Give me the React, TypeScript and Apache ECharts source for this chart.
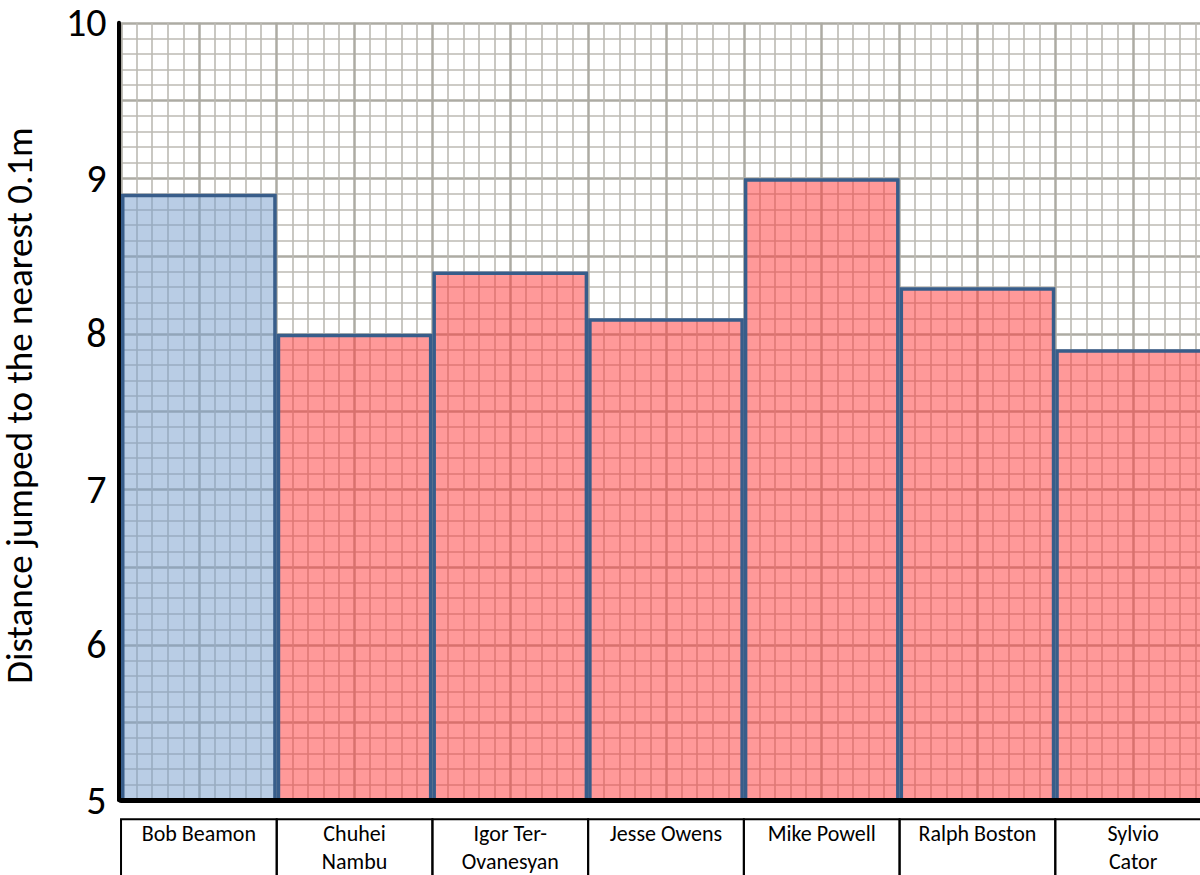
import React, { useEffect, useRef } from "react";
import * as echarts from "echarts";

const categories = [
  "Bob Beamon",
  "Chuhei Nambu",
  "Igor Ter-Ovanesyan",
  "Jesse Owens",
  "Mike Powell",
  "Ralph Boston",
  "Sylvio Cator",
];
const categoryLabels = [
  "Bob Beamon",
  "Chuhei\nNambu",
  "Igor Ter-\nOvanesyan",
  "Jesse Owens",
  "Mike Powell",
  "Ralph Boston",
  "Sylvio\nCator",
];
const distances = [8.9, 8.0, 8.4, 8.1, 9.0, 8.3, 7.9];
const highlighted = ["Bob Beamon"];
const yMin = 5;
const yMax = 10;
const yTitle = "Distance jumped to the nearest 0.1m";

const FONT = "Carlito, Calibri, Lato, sans-serif";

export default function App() {
  const ref = useRef<HTMLDivElement>(null);
  useEffect(() => {
    if (!ref.current) return;
    const chart = echarts.init(ref.current, undefined, { renderer: "svg" });
    const catWidth = 155.66;
    chart.setOption({
      animation: false,
      backgroundColor: "#ffffff",
      textStyle: { fontFamily: FONT },
      grid: {
        left: 121,
        top: 22.8,
        right: 1,
        bottom: 74.7,
        containLabel: false,
        outerBoundsMode: "none",
      },
      xAxis: [
        {
          type: "category",
          data: categories,
          z: 5,
          axisLine: { show: true, lineStyle: { color: "#000", width: 5 } },
          axisTick: { show: false },
          splitLine: { show: false },
          axisLabel: {
            interval: 0,
            margin: 19,
            formatter: (_v: string, i: number) => categoryLabels[i],
            fontFamily: FONT,
            fontSize: 22,
            lineHeight: 28,
            color: "#000",
            width: catWidth,
            height: 62,
            align: "center",
            verticalAlign: "top",
            padding: [0, 0, 0, 0],
            borderColor: "#000",
            borderWidth: 2,
            overflow: "none",
          },
        },
        {
          type: "value",
          min: 0,
          max: categories.length,
          interval: 0.5,
          show: true,
          z: 0,
          axisLine: { show: false },
          axisTick: { show: false },
          axisLabel: { show: false },
          splitLine: { show: true, lineStyle: { color: "#ADABA3", width: 2.5 } },
          minorTick: { show: false, splitNumber: 5 },
          minorSplitLine: { show: true, lineStyle: { color: "#BCBAB3", width: 1.6 } },
        },
      ],
      yAxis: [
        {
          type: "value",
          min: yMin,
          max: yMax,
          interval: 0.5,
          z: 0,
          axisLine: { show: false },
          axisTick: { show: false },
          axisLabel: { show: false },
          splitLine: { show: true, lineStyle: { color: "#ADABA3", width: 2.5 } },
          minorTick: { show: false, splitNumber: 5 },
          minorSplitLine: { show: true, lineStyle: { color: "#BCBAB3", width: 1.6 } },
        },
        {
          type: "value",
          min: yMin,
          max: yMax,
          interval: 1,
          position: "left",
          offset: 2.5,
          z: 5,
          axisLine: { show: true, lineStyle: { color: "#000", width: 4 } },
          axisTick: { show: false },
          splitLine: { show: false },
          axisLabel: {
            margin: 12,
            fontFamily: FONT,
            fontSize: 40,
            color: "#000",
          },
          name: yTitle,
          nameLocation: "middle",
          nameRotate: 90,
          nameGap: 81,
          nameTextStyle: {
            fontFamily: FONT,
            fontSize: 37,
            lineHeight: 36,
            color: "#000",
            padding: [0, 0, 0, 12],
          },
        },
      ],
      series: [
        {
          type: "bar",
          xAxisIndex: 0,
          yAxisIndex: 0,
          z: 2,
          barCategoryGap: "0%",
          data: categories.map((c, i) => ({
            value: distances[i],
            itemStyle: {
              color: highlighted.includes(c)
                ? "rgba(121,160,206,0.52)"
                : "rgba(255,60,60,0.52)",
              borderColor: "#385D8A",
              borderWidth: 3.5,
            },
          })),
        },
      ],
    });
    return () => chart.dispose();
  }, []);
  return (
    <div
      ref={ref}
      style={{ position: "fixed", left: 0, top: 0, width: 1212, height: 875 }}
    />
  );
}
